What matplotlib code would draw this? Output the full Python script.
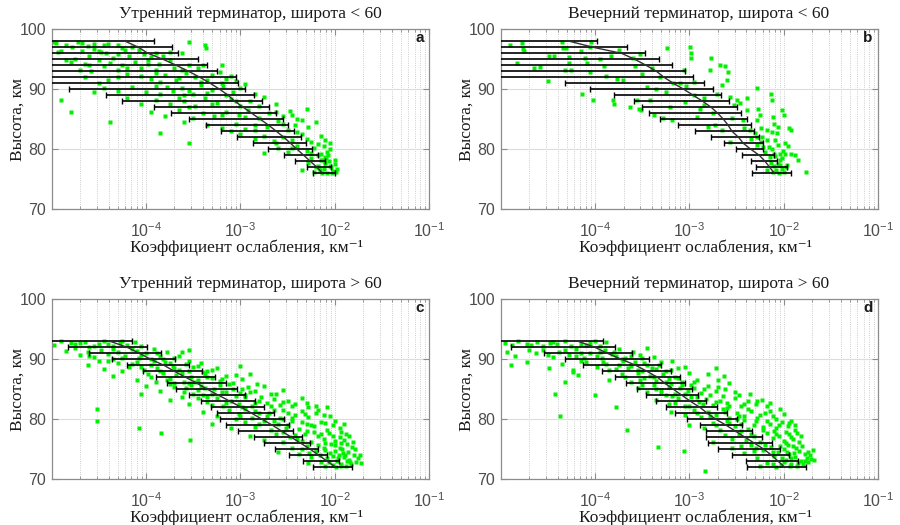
import numpy as np
import matplotlib
matplotlib.use("Agg")
import matplotlib.pyplot as plt
from matplotlib.ticker import LogLocator, NullFormatter

# all coefficient values are stored as lg (log10 of km^-1)
# profiles: altitude levels, mean, left and right ends of the error bars
a_alt = [98, 97, 96, 95, 94, 93, 92, 91, 90, 89, 88, 87, 86, 85, 84, 83, 82, 81, 80, 79, 78, 77, 76]
a_mean = [-4.22, -4.08, -3.98, -3.82, -3.68, -3.55, -3.43, -3.32, -3.22, -3.13, -3.06, -2.97,
          -2.88, -2.79, -2.70, -2.62, -2.54, -2.47, -2.40, -2.33, -2.26, -2.19, -2.13]
a_lo = [-5.5, -5.5, -5.5, -5.5, -5.5, -5.5, -5.5, -5.5, -4.82, -4.42, -4.25, -3.92,
        -3.74, -3.54, -3.36, -3.21, -3.04, -2.87, -2.71, -2.54, -2.42, -2.30, -2.23]
a_hi = [-3.92, -3.73, -3.66, -3.45, -3.35, -3.25, -3.05, -3.03, -2.95, -2.86, -2.77, -2.70,
        -2.62, -2.55, -2.50, -2.43, -2.36, -2.31, -2.24, -2.18, -2.11, -2.04, -2.00]

b_alt = [98, 97, 96, 95, 94, 93, 92, 91, 90, 89, 88, 87, 86, 85, 84, 83, 82, 81, 80, 79, 78, 77, 76]
b_mean = [-4.27, -4.02, -3.72, -3.58, -3.46, -3.35, -3.27, -3.17, -3.06, -2.96, -2.86, -2.77,
          -2.70, -2.64, -2.59, -2.55, -2.48, -2.43, -2.35, -2.26, -2.20, -2.15, -2.10]
b_lo = [-5.5, -5.5, -5.5, -5.5, -5.5, -5.5, -5.5, -4.32, -4.05, -3.80, -3.59, -3.50,
        -3.43, -3.31, -3.12, -2.94, -2.77, -2.63, -2.51, -2.44, -2.35, -2.30, -2.34]
b_hi = [-3.98, -3.66, -3.47, -3.32, -3.19, -3.05, -2.96, -2.85, -2.75, -2.67, -2.58, -2.50,
        -2.45, -2.39, -2.35, -2.32, -2.26, -2.22, -2.22, -2.11, -2.07, -1.97, -1.93]

c_alt = [93, 92, 91, 90, 89, 88, 87, 86, 85, 84, 83, 82, 81, 80, 79, 78, 77, 76, 75, 74, 73, 72]
c_mean = [-4.38, -4.20, -4.07, -3.95, -3.81, -3.70, -3.58, -3.46, -3.35, -3.23, -3.11,
          -2.99, -2.88, -2.77, -2.66, -2.56, -2.46, -2.36, -2.26, -2.17, -2.08, -1.99]
c_lo = [-5.5, -4.83, -4.60, -4.36, -4.20, -4.03, -3.89, -3.78, -3.68, -3.54, -3.42,
        -3.31, -3.25, -3.22, -3.15, -3.03, -2.86, -2.75, -2.63, -2.49, -2.34, -2.23]
c_hi = [-4.15, -3.99, -3.84, -3.69, -3.55, -3.41, -3.27, -3.15, -3.04, -2.95, -2.85,
        -2.75, -2.65, -2.54, -2.49, -2.44, -2.35, -2.26, -2.18, -2.08, -1.96, -1.82]

d_alt = [93, 92, 91, 90, 89, 88, 87, 86, 85, 84, 83, 82, 81, 80, 79, 78, 77, 76, 75, 74, 73, 72]
d_mean = [-4.18, -4.00, -3.87, -3.72, -3.57, -3.45, -3.34, -3.26, -3.17, -3.08, -2.99,
          -2.89, -2.81, -2.72, -2.61, -2.51, -2.41, -2.31, -2.21, -2.13, -2.06, -1.99]
d_lo = [-5.5, -4.89, -4.54, -4.32, -4.13, -3.93, -3.79, -3.67, -3.56, -3.46, -3.35,
        -3.25, -3.15, -3.03, -2.89, -2.82, -2.82, -2.80, -2.70, -2.55, -2.40, -2.39]
d_hi = [-3.92, -3.79, -3.61, -3.43, -3.30, -3.20, -3.10, -3.05, -2.97, -2.91, -2.82,
        -2.71, -2.60, -2.50, -2.44, -2.34, -2.23, -2.13, -2.04, -1.95, -1.85, -1.77]

# single measurements (lg, altitude)
a_pts = [(-4.98, 97.9), (-4.95, 97.7), (-4.72, 97.9), (-4.55, 97.6), (-4.45, 97.3), (-4.62, 97.2),
         (-4.40, 97.6), (-4.30, 97.4), (-3.55, 97.9), (-3.38, 97.3), (-3.36, 96.9),
         (-4.93, 96.2), (-4.90, 96.3), (-4.78, 97.0), (-4.68, 96.4), (-4.55, 96.7), (-4.48, 96.2),
         (-4.42, 96.0), (-4.30, 95.8), (-4.22, 96.6), (-4.15, 97.0), (-4.08, 96.5), (-3.90, 96.0),
         (-3.75, 96.2), (-3.95, 95.3), (-4.60, 95.5), (-4.75, 95.1), (-4.85, 94.8), (-4.35, 95.2),
         (-4.18, 95.6), (-3.62, 96.0),
         (-4.80, 94.5), (-4.65, 94.2), (-4.50, 94.8), (-4.45, 93.8), (-4.38, 94.3), (-4.25, 94.0),
         (-4.12, 94.6), (-4.05, 93.5), (-3.98, 94.9), (-3.86, 94.2), (-3.70, 93.6), (-3.75, 94.8),
         (-3.55, 94.0), (-4.70, 93.2), (-4.58, 93.0), (-4.30, 93.3), (-3.45, 93.5), (-3.40, 94.1),
         (-3.90, 93.2), (-3.20, 94.1),
         (-4.65, 92.0), (-4.40, 91.6), (-4.20, 92.5), (-4.05, 92.3), (-3.95, 91.8), (-3.80, 92.4),
         (-3.68, 91.5), (-3.58, 92.8), (-3.48, 92.0), (-3.35, 91.6), (-3.30, 92.4), (-3.15, 91.8),
         (-3.10, 92.2), (-3.05, 91.4), (-3.22, 92.9), (-4.50, 91.0), (-3.85, 91.2),
         (-4.55, 89.5), (-4.45, 90.2), (-4.30, 89.8), (-4.15, 90.4), (-4.00, 89.6), (-3.90, 90.6),
         (-3.72, 89.8), (-3.62, 90.3), (-3.50, 89.3), (-3.42, 90.8), (-3.30, 89.9), (-3.18, 90.5),
         (-3.08, 89.5), (-3.00, 90.2), (-2.95, 90.9), (-3.60, 89.0), (-3.85, 89.2),
         (-4.90, 88.2), (-4.20, 88.5), (-4.05, 87.6), (-3.90, 88.3), (-3.75, 87.5), (-3.60, 88.0),
         (-3.48, 87.3), (-3.38, 88.6), (-3.25, 87.8), (-3.10, 88.4), (-3.00, 87.2), (-2.90, 88.0),
         (-2.75, 88.8), (-2.62, 87.6), (-3.55, 87.0),
         (-4.80, 86.3), (-3.95, 86.2), (-3.80, 85.6), (-3.65, 86.5), (-3.50, 85.3), (-3.40, 86.0),
         (-3.28, 85.5), (-3.15, 86.3), (-3.02, 85.8), (-2.92, 86.6), (-2.80, 85.2), (-2.70, 86.0),
         (-2.55, 85.5), (-2.48, 86.4), (-2.40, 85.0), (-2.30, 86.8), (-2.35, 84.9),
         (-4.38, 84.5), (-3.60, 84.6), (-3.35, 84.0), (-3.20, 83.6), (-3.05, 84.3), (-2.95, 83.4),
         (-2.85, 84.1), (-2.72, 83.7), (-2.60, 84.8), (-2.50, 83.2), (-2.42, 84.0), (-2.28, 83.8),
         (-2.20, 84.5), (-3.10, 83.0),
         (-3.85, 82.7), (-3.55, 81.0), (-3.00, 82.5), (-2.85, 81.8), (-2.75, 82.3), (-2.65, 81.4),
         (-2.55, 82.0), (-2.45, 81.6), (-2.35, 82.6), (-2.25, 81.2), (-2.15, 82.2), (-2.10, 81.5),
         (-2.05, 81.0),
         (-2.75, 79.4), (-2.60, 80.2), (-2.50, 79.6), (-2.40, 80.5), (-2.30, 79.8), (-2.22, 80.3),
         (-2.15, 79.2), (-2.12, 80.6), (-2.08, 79.5), (-2.05, 80.0), (-2.18, 79.0), (-2.10, 78.8),
         (-2.35, 76.5), (-2.28, 77.8), (-2.22, 76.2), (-2.18, 77.2), (-2.15, 78.3), (-2.12, 76.8),
         (-2.10, 77.5), (-2.08, 76.1), (-2.06, 78.0), (-2.04, 77.0), (-2.02, 76.4), (-2.00, 77.6),
         (-1.98, 76.8), (-2.14, 76.0), (-2.20, 77.0), (-2.25, 78.5), (-2.09, 78.6), (-2.03, 76.0),
         (-2.16, 76.5), (-2.11, 77.9),
         (-4.85, 97.4), (-4.68, 97.7), (-4.50, 96.4), (-4.25, 96.9), (-4.02, 95.8), (-3.82, 95.6),
         (-4.60, 94.1), (-4.20, 93.6), (-3.98, 94.2), (-3.62, 93.2), (-4.30, 92.1), (-3.90, 92.7),
         (-3.65, 91.9), (-3.42, 91.3), (-3.20, 91.0), (-3.78, 90.4), (-3.55, 89.7), (-3.35, 89.4),
         (-3.15, 89.0), (-2.85, 89.3), (-3.65, 88.6), (-3.30, 87.5), (-3.05, 88.0), (-2.80, 87.3),
         (-3.20, 85.8), (-2.95, 85.4), (-2.62, 86.2), (-2.45, 85.8), (-2.85, 83.2), (-2.55, 84.3),
         (-2.40, 82.9), (-2.62, 81.0), (-2.30, 81.8), (-2.45, 80.3), (-2.18, 80.9), (-2.25, 79.4),
         (-2.13, 78.2), (-2.07, 79.1), (-2.00, 78.3), (-2.05, 77.3), (-1.99, 76.2), (-2.17, 76.9)]

b_pts = [(-4.77, 97.7), (-4.76, 96.7), (-4.75, 96.4), (-4.83, 94.4), (-4.65, 93.5), (-4.58, 93.7),
         (-4.50, 91.4), (-4.49, 95.6), (-4.44, 95.6), (-4.35, 97.8), (-4.34, 96.8), (-4.31, 96.8),
         (-4.28, 95.3), (-4.28, 94.4), (-4.32, 93.2), (-4.26, 93.2), (-4.14, 89.3), (-4.11, 95.2),
         (-4.09, 94.4), (-4.05, 92.9), (-4.04, 97.8), (-4.02, 88.3), (-4.05, 97.1), (-3.91, 93.8),
         (-3.88, 92.2), (-3.83, 95.6), (-3.81, 88.2), (-3.80, 87.6), (-3.77, 91.8), (-3.75, 96.6),
         (-3.70, 91.6), (-3.63, 87.1), (-3.60, 95.2), (-3.58, 93.8), (-3.56, 88.2), (-3.54, 86.8),
         (-3.52, 95.9), (-3.51, 86.6), (-3.45, 90.4), (-3.42, 88.2), (-3.40, 93.5), (-3.38, 85.7),
         (-3.35, 90.0), (-3.31, 92.1), (-3.28, 85.2), (-3.24, 96.8), (-3.21, 87.1), (-3.19, 84.9),
         (-3.17, 91.0), (-3.10, 91.0), (-3.06, 93.2), (-3.05, 87.9), (-3.04, 90.6), (-2.99, 97.1),
         (-2.98, 96.0), (-2.98, 95.2), (-2.95, 91.3), (-2.92, 85.4), (-2.89, 86.8), (-2.85, 88.5),
         (-2.85, 87.4), (-2.80, 83.8), (-2.78, 93.2), (-2.77, 95.2), (-2.73, 84.1), (-2.71, 89.3),
         (-2.68, 94.1), (-2.66, 83.2), (-2.66, 90.7), (-2.62, 93.8), (-2.60, 91.6), (-2.59, 92.9),
         (-2.57, 88.8), (-2.57, 81.3), (-2.53, 87.4), (-2.50, 88.2), (-2.46, 87.7), (-2.43, 84.9),
         (-2.39, 88.5), (-2.39, 86.6), (-2.36, 83.2), (-2.31, 82.7), (-2.29, 90.2), (-2.29, 82.1),
         (-2.28, 84.9), (-2.27, 86.8), (-2.25, 85.7), (-2.24, 83.5), (-2.23, 82.1), (-2.22, 80.4),
         (-2.18, 81.6), (-2.16, 80.4), (-2.15, 78.8), (-2.14, 89.2), (-2.13, 88.2), (-2.13, 82.9),
         (-2.12, 85.4), (-2.11, 79.3), (-2.09, 81.6), (-2.07, 82.7), (-2.06, 83.8), (-2.06, 80.7),
         (-2.04, 79.3), (-2.04, 77.4), (-2.02, 86.6), (-2.00, 85.7), (-1.99, 81.0), (-1.99, 79.3),
         (-1.97, 77.4), (-1.95, 83.5), (-1.93, 83.2), (-1.93, 79.3), (-1.88, 79.1), (-1.85, 78.3),
         (-1.77, 76.2),
         (-2.12, 76.2), (-2.08, 76.5), (-2.05, 76.1), (-2.02, 76.8), (-2.10, 77.2), (-2.06, 77.6),
         (-2.00, 76.3), (-2.14, 77.8), (-2.04, 78.2), (-1.98, 77.0), (-2.18, 76.6), (-2.09, 78.9),
         (-2.01, 79.8), (-2.13, 80.1), (-2.20, 79.5), (-2.24, 81.2), (-2.28, 80.8),
         (-4.90, 97.3), (-4.15, 96.3), (-3.95, 95.0), (-3.50, 92.5), (-3.25, 89.6), (-2.95, 89.0),
         (-2.75, 86.0), (-2.55, 85.3), (-2.42, 83.6), (-2.35, 81.8), (-2.18, 83.3), (-2.10, 84.3),
         (-2.02, 78.5), (-1.96, 80.5)]

c_pts = [(-4.98, 92.4), (-4.90, 93.0), (-4.80, 92.8), (-4.75, 92.6), (-4.65, 92.9), (-4.55, 92.3),
         (-4.45, 93.1), (-4.40, 92.5), (-4.35, 92.2), (-4.28, 92.7), (-4.20, 92.4), (-4.12, 92.9),
         (-4.60, 92.0), (-4.05, 92.2),
         (-4.85, 91.4), (-4.70, 90.8), (-4.62, 91.2), (-4.55, 90.4), (-4.48, 91.6), (-4.40, 90.9),
         (-4.30, 91.3), (-4.22, 90.6), (-4.15, 91.7), (-4.08, 90.3), (-4.00, 91.0), (-3.92, 91.8),
         (-3.85, 90.6), (-3.78, 91.3), (-3.70, 90.2), (-3.62, 91.2), (-3.55, 91.6), (-4.50, 89.8),
         (-4.35, 90.1), (-3.95, 90.0),
         (-4.62, 89.0), (-4.45, 88.4), (-4.30, 89.4), (-4.18, 88.7), (-4.10, 89.5), (-4.02, 88.2),
         (-3.95, 89.1), (-3.88, 88.6), (-3.80, 89.6), (-3.72, 88.9), (-3.65, 88.3), (-3.58, 89.2),
         (-3.50, 88.7), (-3.42, 89.4), (-3.35, 88.1), (-3.00, 88.9), (-3.25, 88.5), (-4.25, 88.0),
         (-4.35, 87.3), (-4.10, 86.6), (-3.98, 87.5), (-3.90, 86.3), (-3.82, 87.8), (-3.75, 86.8),
         (-3.68, 87.4), (-3.60, 86.2), (-3.52, 87.1), (-3.45, 86.5), (-3.38, 87.6), (-3.30, 86.9),
         (-3.22, 86.4), (-3.15, 87.2), (-3.08, 86.1), (-2.98, 86.7), (-2.90, 87.5), (-3.55, 86.0),
         (-3.70, 86.1),
         (-4.00, 85.6), (-3.85, 84.8), (-3.70, 85.4), (-3.60, 84.5), (-3.52, 85.8), (-3.45, 84.9),
         (-3.38, 85.3), (-3.30, 84.2), (-3.22, 85.7), (-3.15, 84.6), (-3.08, 85.1), (-3.00, 84.4),
         (-2.92, 85.4), (-2.85, 84.8), (-2.75, 85.6), (-2.68, 84.3), (-3.40, 84.1), (-2.95, 84.0),
         (-4.05, 84.3),
         (-3.75, 83.3), (-3.55, 82.6), (-3.45, 83.6), (-3.35, 82.9), (-3.25, 83.5), (-3.18, 82.3),
         (-3.10, 83.0), (-3.02, 82.5), (-2.95, 83.7), (-2.88, 82.2), (-2.80, 83.1), (-2.72, 82.7),
         (-2.65, 83.4), (-2.58, 82.4), (-2.50, 83.0), (-2.42, 82.6), (-2.35, 83.5), (-3.62, 83.8),
         (-2.28, 82.1),
         (-4.52, 81.8), (-4.52, 79.8), (-3.40, 81.2), (-3.25, 80.6), (-3.12, 81.5), (-3.02, 80.9),
         (-2.95, 81.7), (-2.88, 80.3), (-2.80, 81.1), (-2.72, 80.5), (-2.65, 81.6), (-2.58, 80.2),
         (-2.50, 81.0), (-2.42, 80.7), (-2.35, 81.4), (-2.28, 80.4), (-2.20, 81.1), (-2.12, 80.8),
         (-2.08, 82.0), (-3.05, 80.1),
         (-4.08, 78.6), (-3.30, 79.2), (-3.10, 78.5), (-2.95, 79.5), (-2.85, 78.8), (-2.75, 79.7),
         (-2.68, 78.3), (-2.60, 79.2), (-2.52, 78.6), (-2.45, 79.8), (-2.38, 78.4), (-2.30, 79.3),
         (-2.22, 78.9), (-2.15, 79.6), (-2.08, 78.2), (-2.02, 79.0), (-1.95, 78.5), (-2.55, 80.0),
         (-3.84, 77.7), (-3.53, 76.6), (-2.90, 77.2), (-2.75, 76.5), (-2.62, 77.6), (-2.55, 76.3),
         (-2.48, 77.1), (-2.40, 76.8), (-2.32, 77.5), (-2.25, 76.2), (-2.18, 77.3), (-2.12, 76.7),
         (-2.06, 77.8), (-2.00, 76.4), (-1.95, 77.0), (-1.90, 76.6), (-1.88, 77.5), (-2.10, 76.1),
         (-2.22, 77.9),
         (-2.60, 74.5), (-2.45, 75.3), (-2.38, 74.2), (-2.30, 75.6), (-2.25, 73.8), (-2.20, 74.8),
         (-2.15, 72.9), (-2.12, 75.2), (-2.08, 73.5), (-2.05, 74.4), (-2.02, 72.4), (-2.00, 75.7),
         (-1.98, 73.1), (-1.96, 74.0), (-1.94, 72.6), (-1.92, 75.0), (-1.90, 73.7), (-1.88, 72.2),
         (-1.86, 74.6), (-1.85, 73.3), (-1.83, 72.5), (-1.82, 75.4), (-1.80, 74.1), (-1.78, 72.9),
         (-1.76, 73.6), (-1.73, 74.1), (-1.72, 72.7), (-2.10, 72.3), (-1.99, 72.1), (-1.93, 76.0),
         (-2.16, 74.1), (-2.28, 72.8), (-2.04, 75.9), (-1.87, 75.9), (-1.81, 76.3),
         (-4.70, 92.7), (-4.50, 92.6), (-4.25, 93.0), (-4.75, 91.9), (-4.35, 91.7), (-4.10, 91.4),
         (-3.88, 91.1), (-4.60, 90.6), (-4.25, 90.3), (-4.05, 90.8), (-3.82, 90.1), (-3.65, 90.5),
         (-4.40, 89.7), (-4.15, 89.2), (-3.92, 89.7), (-3.75, 89.4), (-3.55, 89.8), (-3.45, 88.9),
         (-4.05, 88.7), (-3.85, 88.1), (-3.70, 88.5), (-3.55, 88.0), (-3.40, 87.9), (-3.30, 88.3),
         (-3.95, 87.0), (-3.78, 86.6), (-3.62, 87.7), (-3.48, 86.3), (-3.35, 87.0), (-3.20, 86.7),
         (-3.05, 87.4), (-3.75, 85.9), (-3.58, 85.2), (-3.42, 85.6), (-3.28, 85.0), (-3.12, 85.9),
         (-2.98, 85.1), (-2.82, 85.9), (-3.50, 84.3), (-3.35, 83.8), (-3.20, 84.5), (-3.05, 83.9),
         (-2.90, 84.6), (-2.78, 83.8), (-2.62, 84.2), (-2.55, 84.9), (-3.30, 82.4), (-3.15, 82.8),
         (-2.98, 82.1), (-2.85, 82.8), (-2.68, 82.2), (-2.55, 82.9), (-2.45, 82.2), (-2.30, 82.8),
         (-2.20, 82.3), (-3.00, 80.6), (-2.85, 81.4), (-2.70, 81.0), (-2.55, 81.5), (-2.45, 80.3),
         (-2.32, 80.9), (-2.18, 81.6), (-2.05, 80.6), (-2.80, 79.3), (-2.65, 79.8), (-2.50, 79.1),
         (-2.35, 79.6), (-2.25, 79.0), (-2.10, 79.4), (-2.00, 79.8), (-1.90, 79.2), (-2.55, 77.9),
         (-2.42, 77.4), (-2.30, 78.0), (-2.15, 77.6), (-2.02, 77.2), (-1.93, 77.9), (-1.85, 77.2),
         (-2.35, 76.4), (-2.35, 75.0), (-2.27, 74.4), (-2.18, 75.7), (-2.10, 74.9), (-2.02, 73.9),
         (-1.95, 75.3), (-1.91, 74.4), (-1.87, 73.0), (-1.84, 72.9), (-1.79, 75.0), (-1.94, 72.3),
         (-2.06, 72.9), (-2.00, 74.7), (-1.89, 74.0), (-1.97, 73.6)]

d_pts = [(-4.95, 92.8), (-4.88, 92.4), (-4.82, 93.0), (-4.72, 92.6), (-4.62, 92.9), (-4.55, 92.3),
         (-4.48, 92.7), (-4.40, 92.5), (-4.32, 93.0), (-4.25, 92.2), (-4.15, 92.6), (-4.05, 92.8),
         (-3.95, 92.3), (-3.88, 92.9),
         (-4.93, 91.3), (-4.85, 90.6), (-4.63, 91.0), (-4.55, 91.6), (-4.45, 90.4), (-4.38, 91.2),
         (-4.28, 90.8), (-4.20, 91.7), (-4.12, 90.2), (-4.05, 91.1), (-3.98, 90.5), (-3.90, 91.5),
         (-3.82, 90.9), (-3.75, 91.8), (-3.68, 90.3), (-3.60, 91.3), (-3.52, 90.7), (-3.45, 91.9),
         (-3.38, 90.4), (-3.72, 90.0),
         (-4.89, 89.1), (-4.72, 89.6), (-4.49, 88.5), (-4.35, 89.2), (-4.23, 88.3), (-4.10, 89.5),
         (-3.98, 88.8), (-3.88, 89.3), (-3.78, 88.4), (-3.70, 89.7), (-3.62, 88.9), (-3.55, 88.2),
         (-3.48, 89.4), (-3.40, 88.6), (-3.32, 89.1), (-3.25, 88.0), (-3.18, 89.8), (-3.12, 88.5),
         (-2.72, 88.5),
         (-4.32, 86.3), (-4.23, 87.9), (-4.18, 87.4), (-3.85, 86.6), (-3.72, 87.5), (-3.62, 86.2),
         (-3.55, 87.8), (-3.48, 86.9), (-3.42, 87.3), (-3.35, 86.4), (-3.28, 87.6), (-3.22, 86.8),
         (-3.15, 87.1), (-3.08, 86.3), (-3.00, 87.7), (-2.92, 86.6), (-2.63, 87.2), (-2.70, 86.5),
         (-2.58, 86.0),
         (-4.42, 84.2), (-4.00, 84.1), (-3.55, 85.3), (-3.45, 84.6), (-3.38, 85.7), (-3.30, 84.9),
         (-3.22, 85.4), (-3.15, 84.3), (-3.08, 85.8), (-3.02, 84.7), (-2.95, 85.2), (-2.88, 84.4),
         (-2.80, 85.6), (-2.72, 84.8), (-2.62, 85.1), (-2.36, 84.3), (-2.52, 84.5), (-3.25, 84.1),
         (-3.78, 82.1), (-3.35, 83.2), (-3.22, 82.6), (-3.12, 83.5), (-3.05, 82.3), (-2.98, 83.8),
         (-2.90, 82.9), (-2.82, 83.4), (-2.75, 82.4), (-2.68, 83.1), (-2.60, 82.7), (-2.52, 83.6),
         (-2.45, 82.2), (-2.38, 83.0), (-2.23, 83.2), (-2.30, 82.5), (-2.15, 82.8),
         (-4.37, 80.6), (-3.20, 81.3), (-3.05, 80.7), (-2.95, 81.5), (-2.88, 80.4), (-2.80, 81.2),
         (-2.72, 80.8), (-2.65, 81.7), (-2.58, 80.3), (-2.50, 81.0), (-2.42, 80.6), (-2.35, 81.4),
         (-2.28, 80.2), (-2.20, 81.1), (-2.12, 80.5), (-2.04, 81.8), (-2.08, 80.1), (-2.60, 81.9),
         (-3.66, 78.2), (-3.00, 79.0), (-2.85, 78.6), (-2.75, 79.4), (-2.68, 78.2), (-2.60, 79.7),
         (-2.52, 78.9), (-2.45, 79.3), (-2.38, 78.4), (-2.30, 79.8), (-2.22, 78.7), (-2.15, 79.2),
         (-2.08, 78.5), (-2.02, 79.6), (-1.96, 78.9), (-1.92, 79.8), (-2.50, 80.0),
         (-2.75, 76.3), (-2.62, 77.4), (-2.55, 76.8), (-2.48, 77.6), (-2.40, 76.5), (-2.32, 77.2),
         (-2.25, 76.2), (-2.18, 77.7), (-2.12, 76.9), (-2.05, 77.3), (-2.00, 76.4), (-1.95, 77.5),
         (-1.90, 76.7), (-1.86, 77.7), (-1.84, 76.2), (-2.10, 78.0), (-1.98, 76.0),
         (-3.33, 75.4), (-3.06, 74.8), (-2.84, 71.4), (-2.55, 75.2), (-2.42, 74.4), (-2.35, 75.7),
         (-2.28, 73.6), (-2.22, 74.9), (-2.18, 72.8), (-2.14, 75.4), (-2.10, 73.9), (-2.06, 74.6),
         (-2.03, 72.4), (-2.00, 75.1), (-1.98, 73.3), (-1.95, 74.2), (-1.92, 72.6), (-1.90, 75.6),
         (-1.88, 73.8), (-1.86, 72.2), (-1.84, 74.8), (-1.82, 73.1), (-1.80, 72.5), (-1.78, 74.3),
         (-1.76, 73.5), (-1.74, 72.9), (-1.72, 74.0), (-1.69, 74.9), (-1.68, 73.2), (-2.08, 72.1),
         (-1.96, 75.8), (-2.25, 72.3), (-2.32, 74.8), (-1.87, 75.3), (-2.00, 72.9),
         (-4.68, 92.4), (-4.45, 92.9), (-4.10, 92.4), (-4.00, 93.0), (-4.70, 91.6), (-4.32, 91.5),
         (-4.15, 91.1), (-3.95, 91.3), (-3.80, 91.2), (-4.50, 90.8), (-4.20, 90.5), (-3.93, 90.2),
         (-3.78, 90.6), (-3.62, 90.6), (-3.50, 90.2), (-4.15, 89.8), (-3.92, 89.6), (-3.75, 89.1),
         (-3.58, 89.6), (-3.45, 89.1), (-3.30, 89.6), (-3.85, 88.2), (-3.65, 88.6), (-3.50, 88.0),
         (-3.35, 88.4), (-3.20, 88.3), (-3.05, 88.8), (-3.68, 87.0), (-3.52, 86.5), (-3.38, 87.0),
         (-3.25, 86.2), (-3.12, 86.9), (-2.95, 86.2), (-2.80, 87.6), (-3.50, 85.8), (-3.35, 85.1),
         (-3.20, 85.9), (-3.10, 85.2), (-2.98, 85.7), (-2.85, 85.0), (-2.70, 85.4), (-3.30, 84.4),
         (-3.18, 83.9), (-3.05, 84.3), (-2.92, 83.8), (-2.78, 84.1), (-2.65, 83.9), (-2.48, 84.0),
         (-3.15, 82.8), (-3.00, 82.2), (-2.86, 82.6), (-2.72, 82.9), (-2.58, 82.2), (-2.42, 82.6),
         (-2.28, 83.0), (-2.18, 82.2), (-2.92, 81.0), (-2.78, 80.5), (-2.62, 81.2), (-2.48, 80.6),
         (-2.38, 81.7), (-2.25, 80.8), (-2.15, 81.4), (-2.00, 80.9), (-2.72, 79.1), (-2.58, 79.4),
         (-2.42, 79.9), (-2.32, 79.1), (-2.18, 79.7), (-2.05, 79.1), (-1.95, 79.4), (-1.88, 79.0),
         (-2.45, 78.0), (-2.35, 77.5), (-2.22, 78.2), (-2.08, 77.6), (-1.98, 77.9), (-1.92, 77.1),
         (-1.82, 77.3), (-1.88, 78.3), (-2.45, 75.6), (-2.30, 75.3), (-2.20, 75.8), (-2.12, 74.5),
         (-2.04, 75.5), (-1.97, 74.6), (-1.93, 73.5), (-1.89, 74.4), (-1.85, 72.7), (-1.81, 75.5),
         (-1.78, 73.0), (-1.74, 74.6), (-2.02, 73.5), (-1.94, 72.2), (-2.12, 72.6), (-1.71, 73.4)]

titles = ["Утренний терминатор, широта < 60", "Вечерний терминатор, широта < 60",
          "Утренний терминатор, широта > 60", "Вечерний терминатор, широта > 60"]
letters = ["a", "b", "c", "d"]

plt.rcParams['font.family'] = ['Liberation Sans', 'DejaVu Sans']
plt.rcParams['mathtext.fontset'] = 'custom'
plt.rcParams['mathtext.rm'] = 'Liberation Sans'
plt.rcParams['mathtext.it'] = 'Liberation Sans:italic'
plt.rcParams['mathtext.default'] = 'regular'
SERIF = ['Liberation Serif', 'DejaVu Serif']
FRAME = '#8c8c8c'


def panel(ax, pts, alt, mean, lo, hi, title, letter):
    px = [10 ** p[0] for p in pts]
    py = [p[1] for p in pts]
    ax.plot(px, py, 's', color='#00f000', ms=2.5, mec='none', zorder=2)

    m = 10 ** np.array(mean)
    l = 10 ** np.array(lo)
    h = 10 ** np.array(hi)
    ax.errorbar(m, alt, xerr=[m - l, h - m], fmt='none', ecolor='black',
                elinewidth=1.2, capsize=2.5, capthick=1.0, zorder=3)
    ax.plot(m, alt, color='#303030', lw=1.0, zorder=4)

    ax.set_xscale('log')
    ax.set_xlim(1e-5, 1e-1)
    ax.set_ylim(70, 100)
    ax.set_xticks([1e-4, 1e-3, 1e-2, 1e-1])
    ax.xaxis.set_minor_locator(LogLocator(base=10, subs=[2, 3, 4, 5, 6, 7, 8, 9]))
    ax.xaxis.set_minor_formatter(NullFormatter())
    ax.set_yticks([70, 80, 90, 100])

    ax.grid(True, which='both', axis='x', ls=':', color='#bdbdbd', lw=0.6)
    ax.grid(True, which='major', axis='y', ls='-', color='#dcdcdc', lw=0.8)
    ax.set_axisbelow(True)

    for s in ax.spines.values():
        s.set_color(FRAME)
        s.set_linewidth(0.9)
    ax.tick_params(which='both', direction='in', top=True, right=True, color=FRAME,
                   labelcolor='#4d4d4d', labelsize=11.5)
    ax.tick_params(which='major', length=4, width=0.8)
    ax.tick_params(which='minor', length=2, width=0.6)
    ax.tick_params(axis='x', pad=8.5)
    ax.tick_params(axis='y', pad=4)

    ax.text(0.525, 1.087, title, transform=ax.transAxes, ha='center', va='center',
            family=SERIF, fontsize=12.5, color='#1a1a1a')
    ax.text(0.985, 0.95, letter, transform=ax.transAxes, ha='right', va='center',
            fontsize=11, fontweight='bold', color='#1a1a1a')
    ax.set_ylabel("Высота, км", family=SERIF, fontsize=12.5, color='#1a1a1a', va='center')
    ax.yaxis.set_label_coords(-0.089, 0.5)
    ax.set_xlabel("Коэффициент ослабления, км⁻¹", family=SERIF, fontsize=12.5,
                  color='#1a1a1a', va='center')
    ax.xaxis.set_label_coords(0.515, -0.213)


fig = plt.figure(figsize=(9, 5.25), dpi=100)
ax_a = fig.add_axes([0.0574, 0.6013, 0.4196, 0.3429])
ax_b = fig.add_axes([0.5563, 0.6013, 0.4196, 0.3429])
ax_c = fig.add_axes([0.0574, 0.0870, 0.4196, 0.3429])
ax_d = fig.add_axes([0.5563, 0.0870, 0.4196, 0.3429])

panel(ax_a, a_pts, a_alt, a_mean, a_lo, a_hi, titles[0], letters[0])
panel(ax_b, b_pts, b_alt, b_mean, b_lo, b_hi, titles[1], letters[1])
panel(ax_c, c_pts, c_alt, c_mean, c_lo, c_hi, titles[2], letters[2])
panel(ax_d, d_pts, d_alt, d_mean, d_lo, d_hi, titles[3], letters[3])

fig.savefig("out.png", dpi=100)
